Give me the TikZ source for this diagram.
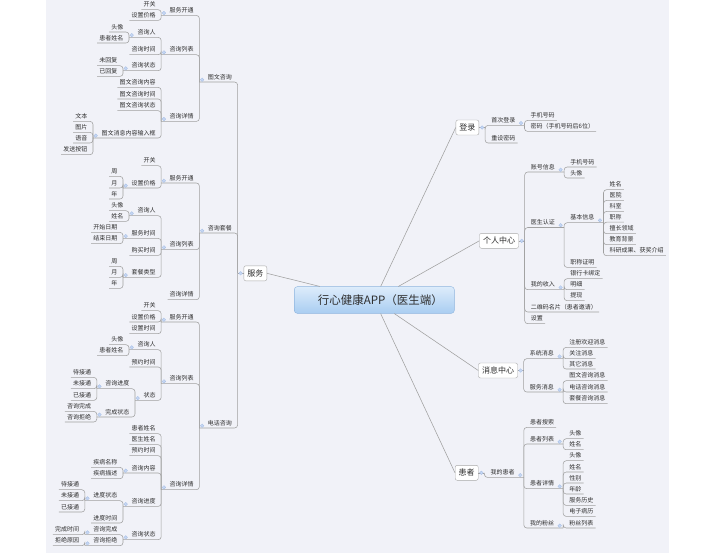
\documentclass[tikz,border=0pt]{standalone}
\usepackage{fontspec}
\setmainfont{Noto Sans CJK SC}
\usetikzlibrary{shadings}
\definecolor{bg}{HTML}{F1F2F8}
\definecolor{ln}{HTML}{A0A0A0}
\definecolor{txt}{HTML}{2E2E2E}
\definecolor{mkf}{HTML}{C6D7F2}
\definecolor{mkd}{HTML}{A4BDE6}
\definecolor{bx}{HTML}{A8A8A8}
\definecolor{ctop}{HTML}{DDECFB}
\definecolor{cbot}{HTML}{A9CDF1}
\definecolor{cbd}{HTML}{8FB5DE}
\tikzset{
  lt/.style={font=\fontsize{6}{7}\selectfont, text=txt, inner xsep=2pt, inner ysep=1.7pt, text height=4.6pt, text depth=1pt},
  conn/.style={draw=ln, line width=0.55pt, rounded corners=3pt},
  mk/.style={fill=mkf, draw=mkd, line width=0.3pt},
  box/.style={draw=bx, fill=white, rounded corners=2pt, font=\fontsize{8}{9}\selectfont, inner xsep=3.5pt, minimum height=15pt, text=txt},
  spoke/.style={draw=ln, line width=0.55pt},
  centre/.style={draw=cbd, top color=ctop, bottom color=cbot, rounded corners=3pt, minimum width=160pt, minimum height=26.7pt, inner sep=0pt, font=\fontsize{11.5}{13}\selectfont, text=txt}
}
\newcommand\Lpar[4]{%
  \node[lt,anchor=east,xshift=-3.5pt] (#1) at (#2-s |- 0,#3) {#4};
  \coordinate (#1-s) at ([xshift=-6.3pt]#1.south west);
  \draw[conn] (#1-s) -| (#2-s);
  \fill[mk] ([xshift=2.7pt,yshift=2.3pt]#1-s) circle (1.8pt);}
\newcommand\Lleaf[4]{%
  \node[lt,anchor=east,xshift=-3.5pt] (#1) at (#2-s |- 0,#3) {#4};
  \draw[conn] (#1.south west) -| (#2-s);}
\newcommand\Rpar[4]{%
  \node[lt,anchor=west,xshift=4pt] (#1) at (#2-s |- 0,#3) {#4};
  \coordinate (#1-s) at ([xshift=7pt]#1.south east);
  \draw[conn] (#2-s) |- (#1-s);
  \fill[mk] ([xshift=-3.5pt,yshift=2.3pt]#1-s) circle (1.8pt);}
\newcommand\Rleaf[4]{%
  \node[lt,anchor=west,xshift=4pt] (#1) at (#2-s |- 0,#3) {#4};
  \draw[conn] (#2-s) |- (#1.south east);}
\begin{document}
\begin{tikzpicture}[x=1pt,y=-1pt]
\useasboundingbox (0,0) rectangle (709,558);
\fill[white] (0,0) rectangle (709,558);
\fill[bg] (46,0) rectangle (669,552.7);

% centre and main branches
\node[centre] (c) at (374.3,300) {\hspace*{12pt}行心健康APP（医生端）};
\node[box,anchor=east] (fw) at (267,273.3) {服务};
\node[box,anchor=west] (dl) at (455.7,127.5) {登录};
\node[box,anchor=west] (gr) at (479.3,240.8) {个人中心};
\node[box,anchor=west] (xx) at (478.3,370.5) {消息中心};
\node[box,anchor=west] (hz) at (455,472.8) {患者};
\draw[spoke] (c) -- (fw.east);
\draw[spoke] (c) -- (dl.west);
\draw[spoke] (c) -- (gr.west);
\draw[spoke] (c) -- (xx.west);
\draw[spoke] (c) -- (hz.west);

\coordinate (fw-s) at ([xshift=-6pt]fw.west);
\draw[conn] (fw.west) -- (fw-s);
\foreach \b in {dl,gr,xx,hz}{
  \coordinate (\b-s) at ([xshift=6pt]\b.east);
  \draw[conn] (\b.east) -- (\b-s);
}

% ===== 服务 =====
\Lpar{tw}{fw}{77.3}{图文咨询}
\Lpar{tc}{fw}{228.3}{咨询套餐}
\Lpar{dh}{fw}{423.3}{电话咨询}

% 图文咨询
\Lpar{twA}{tw}{10.7}{服务开通}
 \Lleaf{twAa}{twA}{5}{开关}
 \Lleaf{twAb}{twA}{15.7}{设置价格}
\Lpar{twB}{tw}{50}{咨询列表}
 \Lpar{twBa}{twB}{32.7}{咨询人}
  \Lleaf{twBaa}{twBa}{27.3}{头像}
  \Lleaf{twBab}{twBa}{38.3}{患者姓名}
 \Lleaf{twBb}{twB}{50}{咨询时间}
 \Lpar{twBc}{twB}{66}{咨询状态}
  \Lleaf{twBca}{twBc}{61}{未回复}
  \Lleaf{twBcb}{twBc}{71.7}{已回复}
\Lpar{twC}{tw}{116.7}{咨询详情}
 \Lleaf{twCa}{twC}{82.7}{图文咨询内容}
 \Lleaf{twCb}{twC}{94.3}{图文咨询时间}
 \Lleaf{twCc}{twC}{106}{图文咨询状态}
 \Lpar{twCd}{twC}{133.3}{图文消息内容输入框}
  \Lleaf{twCda}{twCd}{116.7}{文本}
  \Lleaf{twCdb}{twCd}{127.7}{图片}
  \Lleaf{twCdc}{twCd}{138.3}{语音}
  \Lleaf{twCdd}{twCd}{150}{发送按钮}

% 咨询套餐
\Lpar{tcA}{tc}{178.3}{服务开通}
 \Lleaf{tcAa}{tcA}{161}{开关}
 \Lpar{tcAb}{tcA}{183.3}{设置价格}
  \Lleaf{tcAba}{tcAb}{171.7}{周}
  \Lleaf{tcAbb}{tcAb}{183.3}{月}
  \Lleaf{tcAbc}{tcAb}{194.3}{年}
\Lpar{tcB}{tc}{245}{咨询列表}
 \Lpar{tcBa}{tcB}{211}{咨询人}
  \Lleaf{tcBaa}{tcBa}{206}{头像}
  \Lleaf{tcBab}{tcBa}{216.7}{姓名}
 \Lpar{tcBb}{tcB}{233.7}{服务时间}
  \Lleaf{tcBba}{tcBb}{227.7}{开始日期}
  \Lleaf{tcBbb}{tcBb}{239}{结束日期}
 \Lleaf{tcBc}{tcB}{250.7}{购买时间}
 \Lpar{tcBd}{tcB}{272.7}{套餐类型}
  \Lleaf{tcBda}{tcBd}{261.7}{周}
  \Lleaf{tcBdb}{tcBd}{272.7}{月}
  \Lleaf{tcBdc}{tcBd}{283.7}{年}
\Lleaf{tcC}{tc}{295}{咨询详情}

% 电话咨询
\Lpar{dhA}{dh}{317.3}{服务开通}
 \Lleaf{dhAa}{dhA}{306}{开关}
 \Lleaf{dhAb}{dhA}{317.3}{设置价格}
 \Lleaf{dhAc}{dhA}{329}{设置时间}
\Lpar{dhB}{dh}{379}{咨询列表}
 \Lpar{dhBa}{dhB}{345}{咨询人}
  \Lleaf{dhBaa}{dhBa}{340}{头像}
  \Lleaf{dhBab}{dhBa}{351}{患者姓名}
 \Lleaf{dhBb}{dhB}{362.3}{预约时间}
 \Lpar{dhBc}{dhB}{395.7}{状态}
  \Lpar{dhBca}{dhBc}{384}{咨询进度}
   \Lleaf{dhBcaa}{dhBca}{372.7}{待接通}
   \Lleaf{dhBcab}{dhBca}{384}{未接通}
   \Lleaf{dhBcac}{dhBca}{395.7}{已接通}
  \Lpar{dhBcb}{dhBc}{412.3}{完成状态}
   \Lleaf{dhBcba}{dhBcb}{406.7}{咨询完成}
   \Lleaf{dhBcbb}{dhBcb}{417.3}{咨询拒绝}
\Lpar{dhC}{dh}{485}{咨询详情}
 \Lleaf{dhCa}{dhC}{429}{患者姓名}
 \Lleaf{dhCb}{dhC}{440}{医生姓名}
 \Lleaf{dhCc}{dhC}{451}{预约时间}
 \Lpar{dhCd}{dhC}{468.3}{咨询内容}
  \Lleaf{dhCda}{dhCd}{462.7}{疾病名称}
  \Lleaf{dhCdb}{dhCd}{474}{疾病描述}
 \Lpar{dhCe}{dhC}{501.7}{咨询进度}
  \Lpar{dhCea}{dhCe}{496}{进度状态}
   \Lleaf{dhCeaa}{dhCea}{485}{待接通}
   \Lleaf{dhCeab}{dhCea}{496}{未接通}
   \Lleaf{dhCeac}{dhCea}{507.3}{已接通}
  \Lleaf{dhCeb}{dhCe}{518.3}{进度时间}
 \Lpar{dhCf}{dhC}{535}{咨询状态}
  \Lpar{dhCfa}{dhCf}{530}{咨询完成}
   \Lleaf{dhCfaa}{dhCfa}{530}{完成时间}
  \Lpar{dhCfb}{dhCf}{541}{咨询拒绝}
   \Lleaf{dhCfba}{dhCfb}{541}{拒绝原因}

% ===== 登录 =====
\Rpar{dlA}{dl}{120.7}{首次登录}
 \Rleaf{dlAa}{dlA}{115.7}{手机号码}
 \Rleaf{dlAb}{dlA}{126.7}{密码（手机号码后6位）}
\Rleaf{dlB}{dl}{138.3}{重设密码}

% ===== 个人中心 =====
\Rpar{grA}{gr}{167.3}{账号信息}
 \Rleaf{grAa}{grA}{162.3}{手机号码}
 \Rleaf{grAb}{grA}{173.3}{头像}
\Rpar{grB}{gr}{222.8}{医生认证}
 \Rpar{grBa}{grB}{218}{基本信息}
  \Rleaf{grBaa}{grBa}{185}{姓名}
  \Rleaf{grBab}{grBa}{195.7}{医院}
  \Rleaf{grBac}{grBa}{206.7}{科室}
  \Rleaf{grBad}{grBa}{217.5}{职称}
  \Rleaf{grBae}{grBa}{229}{擅长领域}
  \Rleaf{grBaf}{grBa}{240}{教育背景}
  \Rleaf{grBag}{grBa}{251}{科研成果、获奖介绍}
 \Rleaf{grBb}{grB}{262.7}{职称证明}
\Rpar{grC}{gr}{285}{我的收入}
 \Rleaf{grCa}{grC}{274}{银行卡绑定}
 \Rleaf{grCb}{grC}{285}{明细}
 \Rleaf{grCc}{grC}{296}{提现}
\Rleaf{grD}{gr}{307.3}{二维码名片（患者邀请）}
\Rleaf{grE}{gr}{319}{设置}

% ===== 消息中心 =====
\Rpar{xxA}{xx}{354}{系统消息}
 \Rleaf{xxAa}{xxA}{342.7}{注册欢迎消息}
 \Rleaf{xxAb}{xxA}{354}{关注消息}
 \Rleaf{xxAc}{xxA}{364.3}{其它消息}
\Rpar{xxB}{xx}{387.3}{服务消息}
 \Rleaf{xxBa}{xxB}{376}{图文咨询消息}
 \Rleaf{xxBb}{xxB}{387.3}{电话咨询消息}
 \Rleaf{xxBc}{xxB}{399}{套餐咨询消息}

% ===== 患者 =====
\Rpar{hzA}{hz}{472.7}{我的患者}
 \Rleaf{hzAa}{hzA}{422.7}{患者搜索}
 \Rpar{hzAb}{hzA}{439.3}{患者列表}
  \Rleaf{hzAba}{hzAb}{434}{头像}
  \Rleaf{hzAbb}{hzAb}{445}{姓名}
 \Rpar{hzAc}{hzA}{484}{患者详情}
  \Rleaf{hzAca}{hzAc}{456}{头像}
  \Rleaf{hzAcb}{hzAc}{467.3}{姓名}
  \Rleaf{hzAcc}{hzAc}{478.3}{性别}
  \Rleaf{hzAcd}{hzAc}{489.3}{年龄}
  \Rleaf{hzAce}{hzAc}{500.7}{服务历史}
  \Rleaf{hzAcf}{hzAc}{511.7}{电子病历}
 \Rpar{hzAd}{hzA}{523.3}{我的粉丝}
  \Rleaf{hzAda}{hzAd}{523.3}{粉丝列表}

% box markers
\fill[mk] ([xshift=-3pt]fw.west) circle (1.8pt);
\foreach \b in {dl,gr,xx,hz}{\fill[mk] ([xshift=3pt]\b.east) circle (1.8pt);}
\end{tikzpicture}
\end{document}
